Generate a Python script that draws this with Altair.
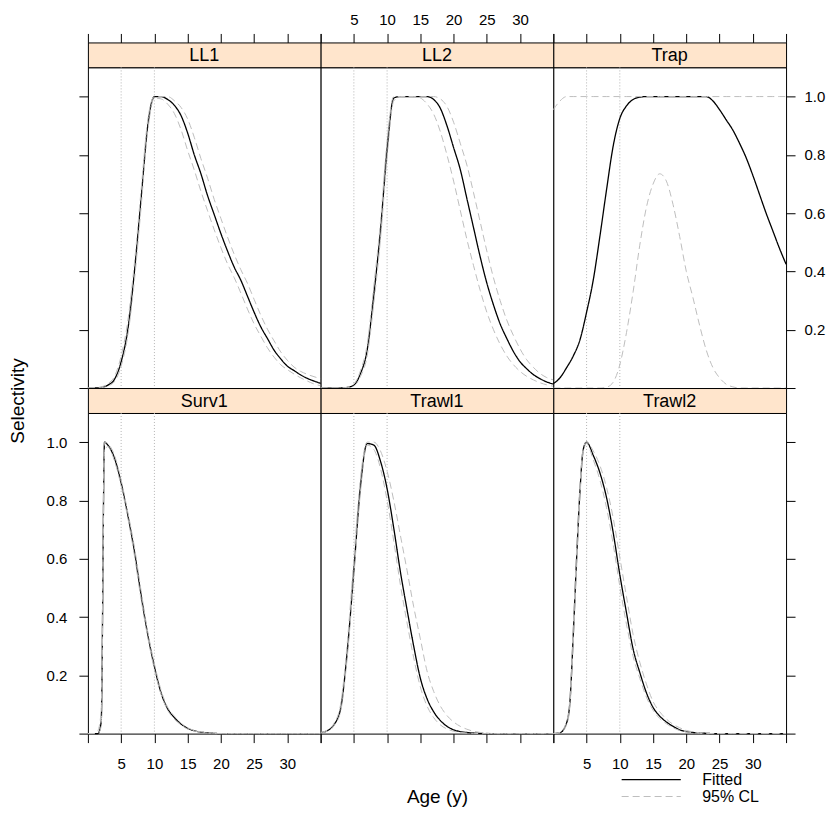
import pandas as pd
import altair as alt

# Ages on the x axis (Surv1 and Trawl2 have extra half-year points on their steep rise)
AGES = list(range(36))
SURV1_AGES = [0, 1, 1.5, 2, 2.5] + list(range(3, 36))
TRAWL2_AGES = [0, 1, 2, 2.5, 3, 3.5, 4, 4.5, 5] + list(range(6, 36))

FLEETS = ["LL1", "LL2", "Trap", "Surv1", "Trawl1", "Trawl2"]
SERIES = ["Fitted", "95% CL"]
REF_AGES = [5, 10]
X_TICKS = [0, 5, 10, 15, 20, 25, 30, 35]
Y_TICKS = [0, 0.2, 0.4, 0.6, 0.8, 1.0]

# Selectivity: fitted, lower and upper 95% limits
LL1_FIT = [0, 0, 0.002, 0.01, 0.03, 0.09, 0.2, 0.4, 0.65, 0.9,
           1.0, 1.0, 0.99, 0.97, 0.935, 0.875, 0.8, 0.735, 0.66, 0.595,
           0.53, 0.47, 0.415, 0.37, 0.315, 0.26, 0.21, 0.17, 0.13, 0.1,
           0.075, 0.06, 0.045, 0.033, 0.024, 0.016]
LL1_LO = [0, 0, 0.001, 0.007, 0.022, 0.075, 0.18, 0.37, 0.62, 0.88,
          0.995, 0.992, 0.974, 0.942, 0.887, 0.815, 0.748, 0.675, 0.608, 0.543,
          0.482, 0.426, 0.379, 0.326, 0.271, 0.22, 0.178, 0.138, 0.106, 0.08,
          0.063, 0.048, 0.035, 0.024, 0.014, 0.008]
LL1_HI = [0, 0.001, 0.004, 0.015, 0.04, 0.11, 0.23, 0.43, 0.68, 0.92,
          1.0, 1.0, 1.0, 0.986, 0.963, 0.923, 0.86, 0.787, 0.72, 0.647,
          0.582, 0.518, 0.459, 0.406, 0.359, 0.304, 0.25, 0.202, 0.162, 0.124,
          0.095, 0.072, 0.057, 0.047, 0.039, 0.032]

LL2_FIT = [0, 0, 0, 0, 0.002, 0.01, 0.05, 0.13, 0.32, 0.54,
           0.82, 0.995, 1.0, 1.0, 1.0, 1.0, 1.0, 0.99, 0.96, 0.9,
           0.825, 0.75, 0.65, 0.55, 0.45, 0.36, 0.285, 0.22, 0.17, 0.125,
           0.09, 0.066, 0.046, 0.032, 0.021, 0.014]
LL2_LO = [0, 0, 0, 0, 0.001, 0.007, 0.04, 0.11, 0.29, 0.51,
          0.79, 0.985, 1.0, 1.0, 1.0, 0.995, 0.975, 0.94, 0.88, 0.8,
          0.71, 0.61, 0.51, 0.42, 0.335, 0.26, 0.2, 0.15, 0.11, 0.08,
          0.057, 0.04, 0.028, 0.018, 0.011, 0.006]
LL2_HI = [0, 0, 0, 0, 0.003, 0.014, 0.06, 0.15, 0.35, 0.57,
          0.85, 1.0, 1.0, 1.0, 1.0, 1.0, 1.0, 1.0, 0.992, 0.966,
          0.912, 0.84, 0.765, 0.67, 0.57, 0.47, 0.378, 0.3, 0.233, 0.18,
          0.134, 0.097, 0.071, 0.05, 0.036, 0.028]

TRAP_FIT = [0.015, 0.035, 0.07, 0.11, 0.165, 0.26, 0.37, 0.52, 0.68, 0.83,
            0.925, 0.968, 0.99, 0.998, 1.0, 1.0, 1.0, 1.0, 1.0, 1.0,
            1.0, 1.0, 1.0, 1.0, 0.985, 0.955, 0.92, 0.885, 0.84, 0.79,
            0.73, 0.665, 0.6, 0.54, 0.48, 0.425]
TRAP_LO = [0, 0, 0, 0, 0, 0, 0, 0, 0.003, 0.02,
           0.08, 0.19, 0.33, 0.49, 0.62, 0.7, 0.735, 0.71, 0.63, 0.52,
           0.4, 0.31, 0.215, 0.13, 0.07, 0.035, 0.013, 0.004, 0, 0,
           0, 0, 0, 0, 0, 0]
TRAP_HI = [0.955, 0.985] + [1.0] * 34

SURV1_FIT = [0, 0, 0, 0.04, 1.0,
             0.99, 0.945, 0.86, 0.75, 0.625, 0.475, 0.34, 0.23, 0.14, 0.085,
             0.055, 0.033, 0.018, 0.01, 0.005, 0.003, 0.001] + [0] * 16
SURV1_LO = [0, 0, 0, 0.025, 0.97,
            0.985, 0.935, 0.85, 0.74, 0.61, 0.46, 0.33, 0.22, 0.135, 0.08,
            0.05, 0.03, 0.016, 0.009, 0.004, 0.002, 0.001] + [0] * 16
SURV1_HI = [0, 0, 0.01, 0.08, 1.0,
            0.995, 0.955, 0.87, 0.76, 0.64, 0.49, 0.35, 0.24, 0.15, 0.09,
            0.06, 0.036, 0.02, 0.011, 0.006, 0.003, 0.001] + [0] * 16

TRAWL1_FIT = [0.003, 0.01, 0.03, 0.085, 0.28, 0.56, 0.85, 0.995, 0.99, 0.935,
              0.84, 0.705, 0.555, 0.425, 0.3, 0.19, 0.12, 0.075, 0.045, 0.025,
              0.013, 0.007, 0.004, 0.002, 0.001, 0, 0, 0, 0, 0,
              0, 0, 0, 0, 0, 0]
TRAWL1_LO = [0.002, 0.008, 0.027, 0.075, 0.26, 0.54, 0.83, 0.99, 0.975, 0.91,
             0.8, 0.66, 0.51, 0.38, 0.26, 0.16, 0.095, 0.055, 0.03, 0.016,
             0.008, 0.004, 0.002, 0.001, 0, 0, 0, 0, 0, 0,
             0, 0, 0, 0, 0, 0]
TRAWL1_HI = [0.004, 0.012, 0.035, 0.1, 0.31, 0.6, 0.88, 1.0, 1.0, 0.97,
             0.9, 0.8, 0.68, 0.56, 0.435, 0.325, 0.215, 0.145, 0.095, 0.062,
             0.04, 0.025, 0.015, 0.008, 0.004, 0.002, 0, 0, 0, 0,
             0, 0, 0, 0, 0, 0]

TRAWL2_FIT = [0, 0.003, 0.037, 0.11, 0.34, 0.6, 0.83, 0.975, 1.0,
              0.955, 0.895, 0.81, 0.69, 0.545, 0.415, 0.29, 0.21, 0.14, 0.09,
              0.06, 0.04, 0.025, 0.013, 0.007, 0.004, 0.002, 0.001] + [0] * 12
TRAWL2_LO = [0, 0.002, 0.03, 0.095, 0.31, 0.57, 0.81, 0.965, 0.995,
             0.94, 0.87, 0.775, 0.65, 0.505, 0.375, 0.265, 0.19, 0.125, 0.08,
             0.052, 0.034, 0.02, 0.011, 0.006, 0.003, 0.001, 0] + [0] * 12
TRAWL2_HI = [0, 0.004, 0.042, 0.125, 0.37, 0.63, 0.85, 0.98, 1.0,
             0.97, 0.92, 0.845, 0.74, 0.605, 0.47, 0.34, 0.245, 0.17, 0.11,
             0.075, 0.05, 0.032, 0.02, 0.011, 0.006, 0.003, 0.001] + [0] * 12

CURVES = {
    "LL1": (AGES, LL1_FIT, LL1_LO, LL1_HI),
    "LL2": (AGES, LL2_FIT, LL2_LO, LL2_HI),
    "Trap": (AGES, TRAP_FIT, TRAP_LO, TRAP_HI),
    "Surv1": (SURV1_AGES, SURV1_FIT, SURV1_LO, SURV1_HI),
    "Trawl1": (AGES, TRAWL1_FIT, TRAWL1_LO, TRAWL1_HI),
    "Trawl2": (TRAWL2_AGES, TRAWL2_FIT, TRAWL2_LO, TRAWL2_HI),
}

rows = []
for fleet, (ages, fit, lo, hi) in CURVES.items():
    for curve, series, vals in [("fit", "Fitted", fit), ("lo", "95% CL", lo), ("hi", "95% CL", hi)]:
        for a, v in zip(ages, vals):
            rows.append({"fleet": fleet, "curve": curve, "series": series, "age": a, "sel": v})
df = pd.DataFrame(rows)
refs = pd.DataFrame({"age": REF_AGES})

FONT = "Liberation Sans"
PANEL_W = 233
PANEL_H = 321
STRIP_H = 25
STRIP_FILL = "#ffe5cc"
CL_GREY = "#bebebe"

xscale = alt.Scale(domain=[0, 35], nice=False, zero=False)
yscale = alt.Scale(domain=[0, 1.1], nice=False)
color_scale = alt.Scale(domain=SERIES, range=["black", CL_GREY])
dash_scale = alt.Scale(domain=SERIES, range=[[1, 0], [7, 4]])

legend = alt.Legend(
    title=None, orient="none", legendX=555, legendY=729, padding=0,
    symbolType="M-3.7,0H3.7", symbolSize=256, symbolStrokeWidth=1.2,
    labelFont=FONT, labelFontSize=16, labelColor="black", labelOffset=42,
    rowPadding=0,
)

X_LABELS = "datum.value == 0 || datum.value == 35 ? '' : datum.label"
Y_LABELS = "datum.value == 0 ? '' : format(datum.value, '.1f')"


def x_axis(where, labels):
    if where == "top":
        return alt.Axis(orient="top", offset=STRIP_H, values=X_TICKS, labels=labels,
                        labelExpr=X_LABELS, labelPadding=6, title=None)
    return alt.Axis(orient="bottom", values=X_TICKS, labels=labels,
                    labelExpr=X_LABELS, labelPadding=14, title=None)


def y_axis(where, labels):
    return alt.Axis(orient=where, values=Y_TICKS, labels=labels, labelExpr=Y_LABELS,
                    labelPadding=12 if where == "left" else 9, title=None)


def panel(fleet, xa, ya):
    data = df[df.fleet == fleet]
    x = alt.X("age:Q", scale=xscale, axis=xa)
    y = alt.Y("sel:Q", scale=yscale, axis=ya)
    ref_lines = alt.Chart(refs).mark_rule(color="#b4b4b4", strokeDash=[1, 2], strokeWidth=1).encode(x=x)
    fitted = alt.Chart(data[data.curve == "fit"]).mark_line(interpolate="monotone", strokeWidth=1.3).encode(
        x=x, y=y,
        color=alt.Color("series:N", scale=color_scale, legend=legend),
        strokeDash=alt.StrokeDash("series:N", scale=dash_scale, legend=legend),
    )
    limits = alt.Chart(data[data.curve != "fit"]).mark_line(interpolate="monotone", strokeWidth=1).encode(
        x=x, y=y,
        color=alt.Color("series:N", scale=color_scale, legend=legend),
        strokeDash=alt.StrokeDash("series:N", scale=dash_scale, legend=legend),
        detail="curve:N",
    )
    return alt.layer(ref_lines, fitted, limits).properties(
        width=PANEL_W, height=PANEL_H,
        view=alt.ViewBackground(fill="white", stroke="black", strokeWidth=1),
    )


def strip(fleet):
    return alt.Chart(pd.DataFrame({"fleet": [fleet]})).mark_text(
        font=FONT, fontSize=18, color="black", baseline="middle", align="center"
    ).encode(
        text="fleet:N", x=alt.value(PANEL_W / 2), y=alt.value(STRIP_H / 2 + 1)
    ).properties(
        width=PANEL_W, height=STRIP_H,
        view=alt.ViewBackground(fill=STRIP_FILL, stroke="black", strokeWidth=1),
    )


# lattice-style alternating axes
p_ll1 = panel("LL1", x_axis("top", False), y_axis("left", False))
p_ll2 = panel("LL2", x_axis("top", True), None)
p_trap = panel("Trap", x_axis("top", False), y_axis("right", True))
p_surv1 = panel("Surv1", x_axis("bottom", True), alt.Axis(
    orient="left", values=Y_TICKS, labelExpr=Y_LABELS, labelPadding=12,
    title="Selectivity", titleX=-64, titleY=-12.5, titleAlign="center", titleBaseline="alphabetic"))
p_trawl1 = panel("Trawl1", alt.Axis(
    orient="bottom", values=X_TICKS, labels=False, title="Age (y)",
    titleX=PANEL_W / 2, titleY=69, titleAlign="center", titleBaseline="alphabetic"), None)
p_trawl2 = panel("Trawl2", x_axis("bottom", True), y_axis("right", False))

chart = alt.concat(
    strip("LL1"), strip("LL2"), strip("Trap"),
    p_ll1, p_ll2, p_trap,
    strip("Surv1"), strip("Trawl1"), strip("Trawl2"),
    p_surv1, p_trawl1, p_trawl2,
    columns=3, spacing=0, bounds="flush",
).properties(
    padding={"left": 0, "top": 3, "right": 0, "bottom": 0},
    background="white",
).configure_axis(
    domain=False, grid=False, tickColor="black", tickSize=9, tickWidth=1,
    labelColor="black", labelFont=FONT, labelFontSize=15,
    titleColor="black", titleFont=FONT, titleFontSize=19, titleFontWeight="normal",
)

chart.save("out.html", embed_options={"renderer": "svg", "actions": False})
